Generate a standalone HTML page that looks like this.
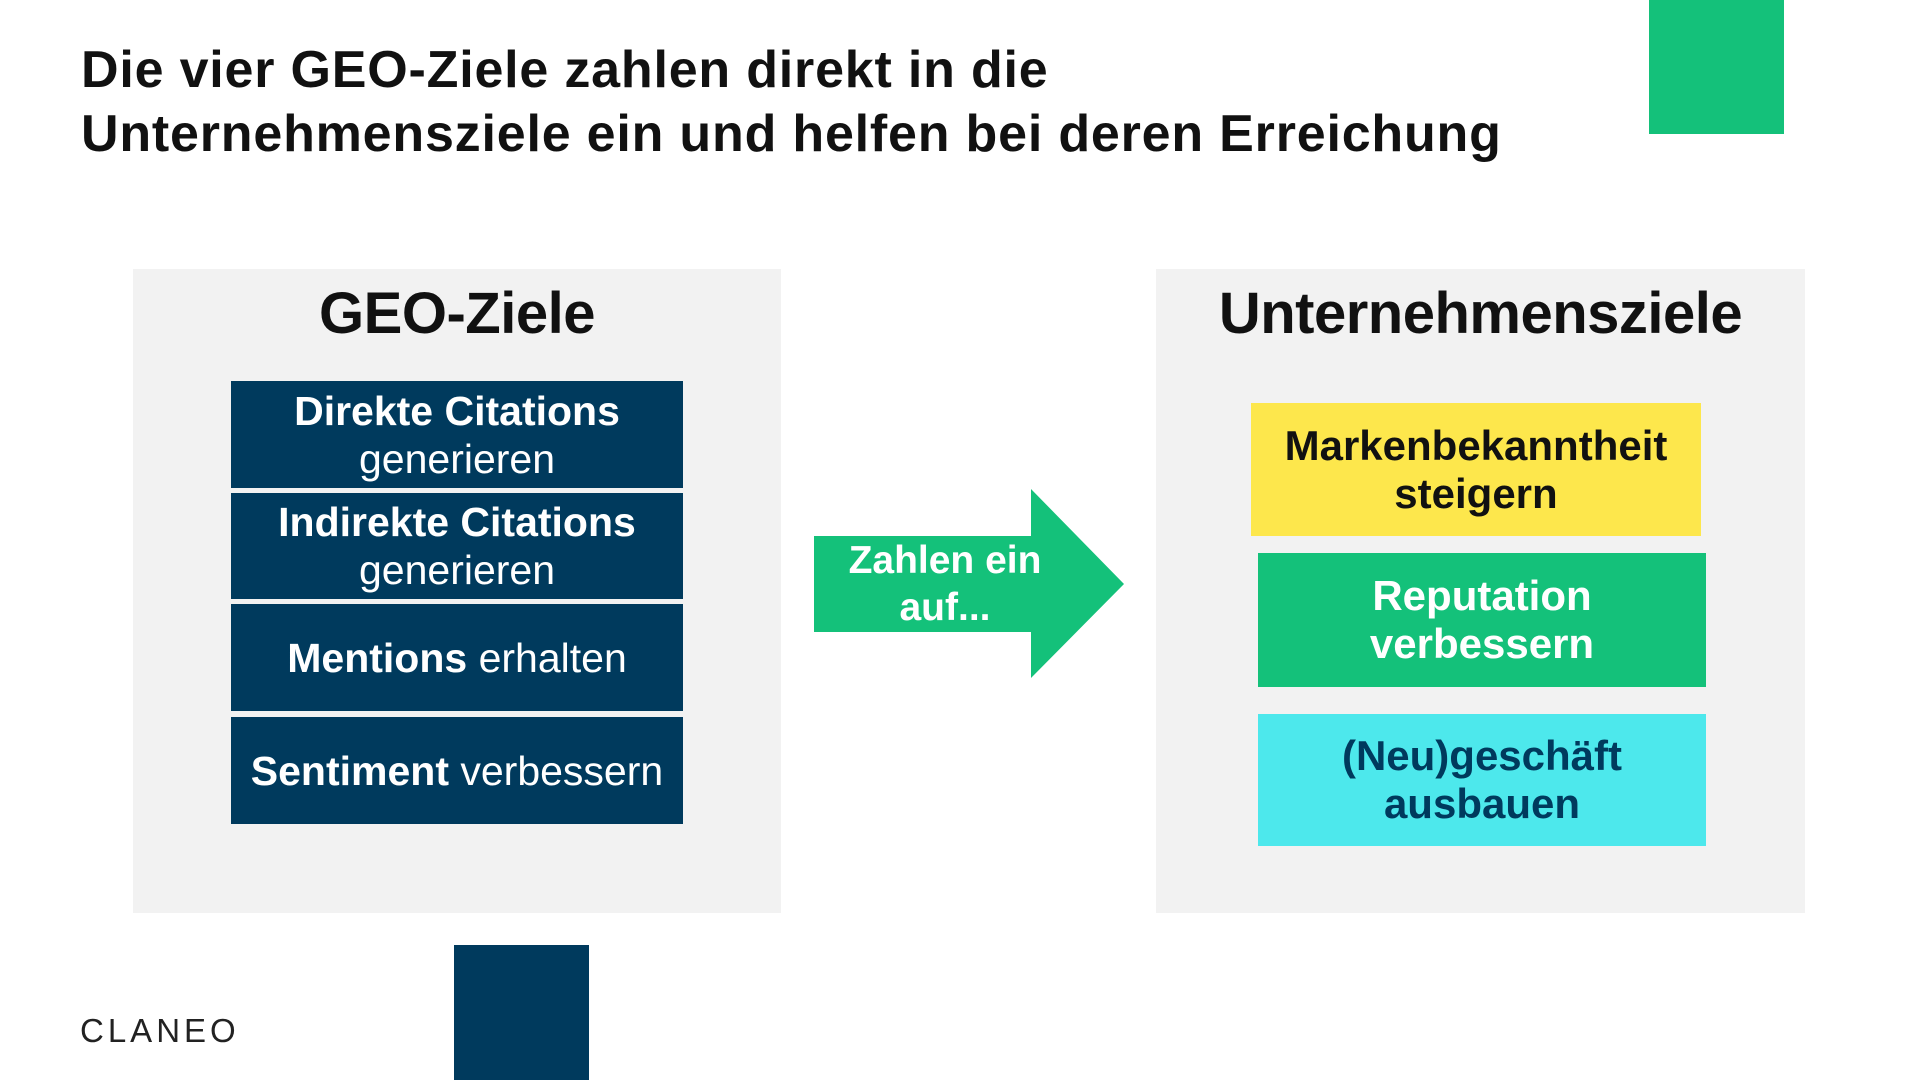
<!DOCTYPE html>
<html><head><meta charset="utf-8"><style>
*{margin:0;padding:0;box-sizing:border-box}
body{width:1920px;height:1080px;position:relative;background:#fff;font-family:"Liberation Sans",sans-serif;overflow:hidden}
.a{position:absolute}
.title{left:81px;top:38px;font-size:52px;font-weight:bold;line-height:64px;letter-spacing:0.8px;color:#111}
.panel{background:#f2f2f2;top:269px;height:644px}
.h{font-size:58px;font-weight:bold;color:#111;text-align:center;top:280px;letter-spacing:-0.5px}
.db{background:#003a5d;color:#fff;left:231px;width:452px;display:flex;flex-direction:column;justify-content:center;align-items:center;font-size:41px;line-height:48px;text-align:center}
.db b{font-weight:bold}
.rb{display:flex;flex-direction:column;justify-content:center;align-items:center;font-size:42px;line-height:48px;font-weight:bold;text-align:center}
</style></head><body>
<div class="a title">Die vier GEO-Ziele zahlen direkt in die<br>Unternehmensziele ein und helfen bei deren Erreichung</div>
<div class="a" style="left:1649px;top:0;width:135px;height:134px;background:#14c17a"></div>
<div class="a panel" style="left:133px;width:648px"></div>
<div class="a panel" style="left:1156px;width:649px"></div>
<div class="a h" style="left:133px;width:648px">GEO-Ziele</div>
<div class="a h" style="left:1156px;width:649px">Unternehmensziele</div>
<div class="a db" style="top:381px;height:107px"><div><b>Direkte Citations</b></div><div>generieren</div></div>
<div class="a db" style="top:493px;height:106px"><div><b>Indirekte Citations</b></div><div>generieren</div></div>
<div class="a db" style="top:604px;height:107px"><div><b>Mentions</b> erhalten</div></div>
<div class="a db" style="top:717px;height:107px"><div><b>Sentiment</b> verbessern</div></div>
<svg class="a" style="left:0;top:0" width="1920" height="1080"><polygon points="814,536 1031,536 1031,489 1124,584 1031,678 1031,632 814,632" fill="#14c17a"/></svg>
<div class="a rb" style="left:814px;top:536px;width:262px;height:96px;color:#fff;font-size:39px;line-height:47px">Zahlen ein<br>auf...</div>
<div class="a rb" style="left:1251px;top:403px;width:450px;height:133px;background:#fde74c;color:#111">Markenbekanntheit<br>steigern</div>
<div class="a rb" style="left:1258px;top:553px;width:448px;height:134px;background:#14c17a;color:#fff">Reputation<br>verbessern</div>
<div class="a rb" style="left:1258px;top:714px;width:448px;height:132px;background:#4de8ec;color:#003a5d">(Neu)geschäft<br>ausbauen</div>
<div class="a" style="left:454px;top:945px;width:135px;height:135px;background:#003a5d"></div>
<div class="a" style="left:80px;top:1012px;font-size:33px;letter-spacing:4px;color:#222">CLANEO</div>
</body></html>
